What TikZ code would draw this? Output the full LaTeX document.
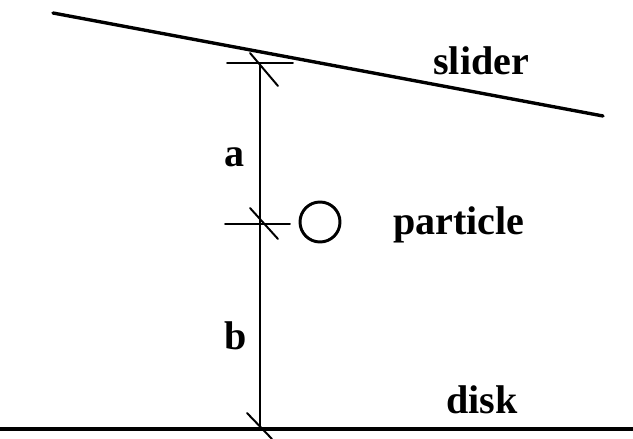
\documentclass[tikz,border=0pt]{standalone}
\usepackage{fontspec}
\setmainfont{Liberation Serif}
\tikzset{
    etiqueta/.style={anchor=base west, inner sep=0pt, font=\fontsize{28.5}{30}\selectfont\bfseries},
    marca/.style={line width=1.4pt},
}

\begin{document}
\begin{tikzpicture}[line cap=round]
    \useasboundingbox (0, 0) rectangle (15.825, 10.975);

    % Deslizador y disco
    \draw[line width=2.4pt] (1.325, 10.65) -- (15.075, 8.075);
    \draw[line width=2.6pt, line cap=butt] (0, 0.25) -- (15.825, 0.25);

    % Eje vertical: a arriba, b abajo
    \coordinate (arriba) at (6.5, 9.4);
    \coordinate (medio) at (6.5, 5.375);
    \coordinate (abajo) at (6.5, 0.25);
    \draw[marca] (arriba) -- (abajo);

    % Marcas
    \draw[marca] (5.675, 9.4) -- (7.325, 9.4);
    \draw[marca] (6.25, 9.65) -- (6.95, 8.825);
    \draw[marca] (5.625, 5.375) -- (7.25, 5.375);
    \draw[marca] (6.25, 5.775) -- (6.95, 5.0);
    \draw[marca] (6.175, 0.65) -- (6.8, 0);

    % Partícula
    \draw[line width=2.1pt] (8.0, 5.425) circle (0.5);

    % Etiquetas
    \node[etiqueta] (la) at (5.6, 6.8) {a};
    \node[etiqueta] (lb) at (5.6, 2.225) {b};
    \node[etiqueta] (slider) at (10.825, 9.1) {slider};
    \node[etiqueta] (particle) at (9.825, 5.1) {particle};
    \node[etiqueta] (disk) at (11.15, 0.625) {disk};
\end{tikzpicture}
\end{document}
